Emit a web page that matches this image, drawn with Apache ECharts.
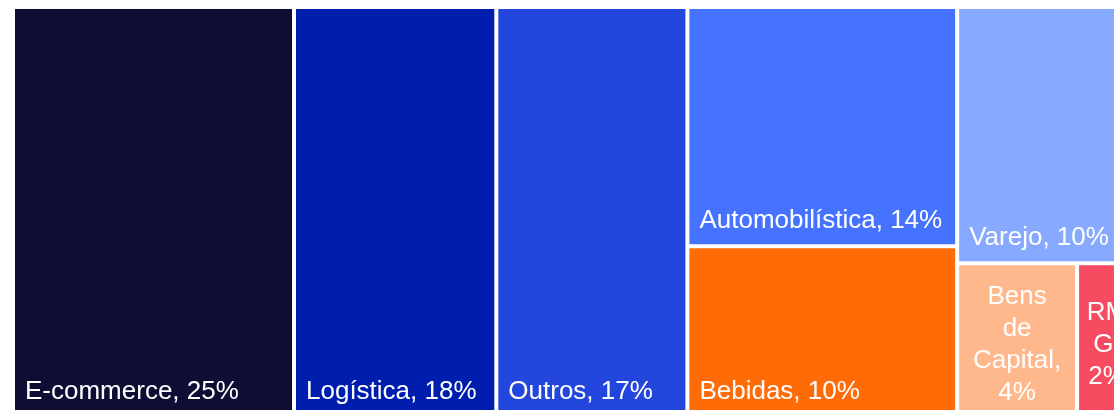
<!DOCTYPE html>
<html>
<head>
<meta charset="utf-8">
<script src="https://cdn.jsdelivr.net/npm/echarts@6/dist/echarts.min.js"></script>
<style>
  html, body { margin: 0; padding: 0; background: #fff; }
  #main { width: 1114px; height: 410px; }
</style>
</head>
<body>
<div id="main"></div>
<script>
// setores e participação (%)
// obs: em empate o treemap coloca o índice maior primeiro, por isso Varejo vem antes de Bebidas
const sectors = ['E-commerce', 'Logística', 'Outros', 'Automobilística', 'Varejo', 'Bebidas', 'Bens de Capital', 'RMG'];
const shares = [25, 18, 17, 14, 10, 10, 4, 2];
const colors = ['#0e0e35', '#001eae', '#2347dc', '#4573ff', '#87a9ff', '#ff6b07', '#ffb88c', '#f64b61'];

const chart = echarts.init(document.getElementById('main'));

const bigLabel = {
    position: 'insideBottomLeft',
    distance: 5,
    padding: 5
};
const smallLabel = {
    position: 'inside',
    align: 'center',
    verticalAlign: 'middle',
    overflow: 'break',
    padding: 5,
    offset: [0, 5],
    lineHeight: 32,
    // uma palavra por linha nas caixas pequenas
    formatter: p => p.name.split(' ').join('\n') + ',\n' + p.value + '%'
};

const data = sectors.map((name, i) => ({
    name: name,
    value: shares[i],
    itemStyle: { color: colors[i] },
    label: shares[i] < 5 ? smallLabel : bigLabel
}));

chart.setOption({
    animation: false,
    series: [{
        type: 'treemap',
        left: 15,
        top: 9,
        width: 1120,
        height: 406,
        roam: false,
        nodeClick: false,
        breadcrumb: { show: false },
        squareRatio: 0.9,
        levels: [
            { itemStyle: { gapWidth: 4, borderWidth: 0 } }
        ],
        itemStyle: { borderWidth: 0 },
        label: {
            show: true,
            color: '#fff',
            fontFamily: 'Liberation Sans, Arial, sans-serif',
            fontSize: 26,
            formatter: p => p.name + ', ' + p.value + '%'
        },
        upperLabel: { show: false },
        data: data
    }]
});
</script>
</body>
</html>
